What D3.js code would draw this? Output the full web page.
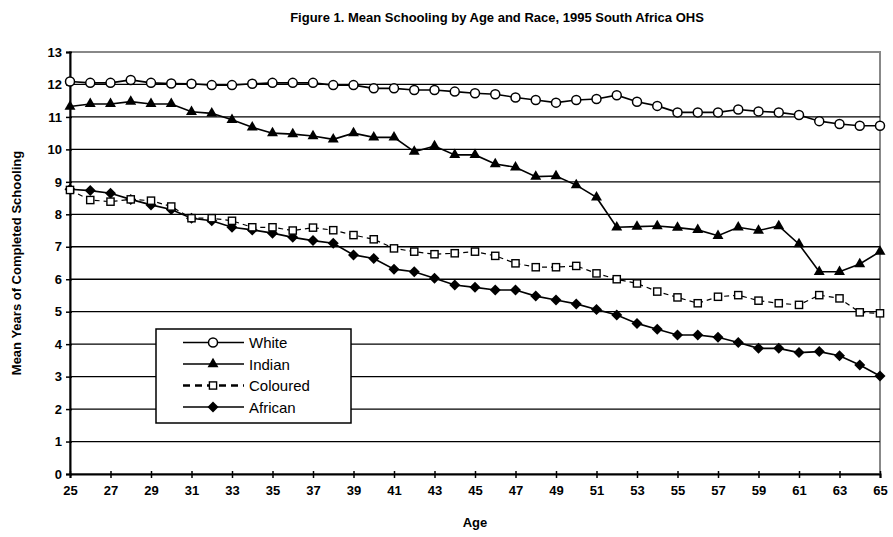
<!DOCTYPE html>
<html>
<head>
<meta charset="utf-8">
<script src="https://cdn.jsdelivr.net/npm/d3@7"></script>
<style>
  body { margin: 0; background: #fff; }
  text { font-family: "Liberation Sans", Arial, sans-serif; }
</style>
</head>
<body>
<div id="wrapper"></div>
<script>
// data
const ages = d3.range(25, 66);
const white = [12.09, 12.05, 12.05, 12.14, 12.05, 12.03, 12.02, 11.98, 11.98, 12.02,
  12.05, 12.05, 12.05, 11.98, 11.98, 11.88, 11.88, 11.83, 11.83, 11.78,
  11.73, 11.70, 11.60, 11.52, 11.44, 11.52, 11.55, 11.67, 11.47, 11.34,
  11.14, 11.14, 11.14, 11.23, 11.17, 11.14, 11.06, 10.87, 10.78, 10.73, 10.73];
const indian = [11.32, 11.40, 11.40, 11.47, 11.40, 11.40, 11.16, 11.11, 10.91, 10.68,
  10.50, 10.47, 10.41, 10.31, 10.50, 10.37, 10.37, 9.93, 10.10, 9.83,
  9.83, 9.55, 9.45, 9.16, 9.18, 8.90, 8.52, 7.60, 7.62, 7.64,
  7.59, 7.52, 7.34, 7.60, 7.50, 7.64, 7.08, 6.23, 6.23, 6.47, 6.85];
const coloured = [8.75, 8.44, 8.39, 8.46, 8.42, 8.24, 7.88, 7.88, 7.80, 7.60,
  7.60, 7.50, 7.59, 7.51, 7.36, 7.23, 6.95, 6.85, 6.77, 6.80,
  6.85, 6.72, 6.49, 6.37, 6.37, 6.41, 6.18, 6.00, 5.87, 5.62,
  5.44, 5.26, 5.46, 5.51, 5.34, 5.26, 5.21, 5.51, 5.41, 4.98, 4.95];
const african = [8.77, 8.73, 8.65, 8.46, 8.29, 8.15, 7.88, 7.80, 7.60, 7.52,
  7.42, 7.29, 7.19, 7.11, 6.75, 6.64, 6.31, 6.23, 6.03, 5.82,
  5.75, 5.67, 5.67, 5.48, 5.36, 5.24, 5.07, 4.90, 4.64, 4.46,
  4.28, 4.28, 4.21, 4.05, 3.87, 3.87, 3.74, 3.77, 3.64, 3.36, 3.02];
const seriesNames = ["White", "Indian", "Coloured", "African"];
const xTicks = d3.range(25, 66, 2);
const yTicks = d3.range(0, 14);

const dimensions = {
  width: 893,
  height: 537,
  margin: { top: 52, right: 13, bottom: 63, left: 70 },
};
dimensions.boundedWidth = dimensions.width - dimensions.margin.left - dimensions.margin.right;
dimensions.boundedHeight = dimensions.height - dimensions.margin.top - dimensions.margin.bottom;

const svg = d3.select("#wrapper").append("svg")
  .attr("width", dimensions.width)
  .attr("height", dimensions.height);

const bounds = svg.append("g")
  .attr("transform", `translate(${dimensions.margin.left},${dimensions.margin.top})`);

const xScale = d3.scaleLinear().domain([25, 65]).range([0, dimensions.boundedWidth]);
const yScale = d3.scaleLinear().domain([0, 13]).range([dimensions.boundedHeight, 0]);

// plot border (grey, top + right)
bounds.append("rect")
  .attr("x", 0).attr("y", 0)
  .attr("width", dimensions.boundedWidth).attr("height", dimensions.boundedHeight)
  .attr("fill", "none").attr("stroke", "#888").attr("stroke-width", 2);

// gridlines
bounds.append("g").selectAll("line")
  .data(yTicks.filter((d) => d > 0 && d < 13))
  .join("line")
  .attr("x1", 0).attr("x2", dimensions.boundedWidth)
  .attr("y1", (d) => yScale(d)).attr("y2", (d) => yScale(d))
  .attr("stroke", "#000").attr("stroke-width", 1.3);

// axes
const yAxis = bounds.append("g")
  .call(d3.axisLeft(yScale).tickValues(yTicks).tickSize(4).tickPadding(4).tickFormat(d3.format("d")));
const xAxis = bounds.append("g")
  .attr("transform", `translate(0,${dimensions.boundedHeight})`)
  .call(d3.axisBottom(xScale).tickValues(xTicks).tickSize(4).tickPadding(8).tickFormat(d3.format("d")));
[xAxis, yAxis].forEach((ax) => {
  ax.select(".domain").attr("stroke", "#000").attr("stroke-width", 2);
  ax.selectAll(".tick line").attr("stroke", "#000").attr("stroke-width", 1.5);
  ax.selectAll(".tick text")
    .attr("font-family", "Liberation Sans, Arial, sans-serif")
    .attr("font-size", 13).attr("font-weight", "bold").attr("fill", "#000");
});
xAxis.selectAll(".tick line").attr("y1", -3);
yAxis.selectAll(".tick line").attr("x1", 2);

// markers
const markers = {
  White: (g) => g.append("circle").attr("r", 4.5).attr("fill", "#fff").attr("stroke", "#000").attr("stroke-width", 1.5),
  Indian: (g) => g.append("path").attr("d", d3.symbol(d3.symbolTriangle, 52)()).attr("fill", "#000"),
  Coloured: (g) => g.append("rect").attr("x", -3.6).attr("y", -3.6).attr("width", 7.2).attr("height", 7.2)
    .attr("fill", "#fff").attr("stroke", "#000").attr("stroke-width", 1.4),
  African: (g) => g.append("path").attr("d", "M0,-5.5L5.5,0L0,5.5L-5.5,0Z").attr("fill", "#000"),
};
const dashes = { White: null, Indian: null, Coloured: "5,4", African: null };
const seriesValues = { White: white, Indian: indian, Coloured: coloured, African: african };

const lineGenerator = d3.line()
  .x((d) => xScale(d[0]))
  .y((d) => yScale(d[1]));

// draw back to front
["African", "Coloured", "Indian", "White"].forEach((name) => {
  const pts = ages.map((a, i) => [a, seriesValues[name][i]]);
  bounds.append("path")
    .attr("d", lineGenerator(pts))
    .attr("fill", "none").attr("stroke", "#000")
    .attr("stroke-width", name === "Coloured" ? 1.2 : 1.6)
    .attr("stroke-dasharray", dashes[name]);
  bounds.append("g").selectAll("g")
    .data(pts)
    .join("g")
    .attr("transform", (d) => `translate(${xScale(d[0])},${yScale(d[1])})`)
    .each(function () { markers[name](d3.select(this)); });
});

// legend
const legend = svg.append("g").attr("transform", "translate(156,329)");
legend.append("rect")
  .attr("width", 195).attr("height", 94)
  .attr("fill", "#fff").attr("stroke", "#000").attr("stroke-width", 1.5);
seriesNames.forEach((name, i) => {
  const row = legend.append("g").attr("transform", `translate(0,${13.5 + i * 21.5})`);
  row.append("line")
    .attr("x1", 27).attr("x2", 88).attr("y1", 0).attr("y2", 0)
    .attr("stroke", "#000")
    .attr("stroke-width", name === "Coloured" ? 2.5 : 1.5)
    .attr("stroke-dasharray", name === "Coloured" ? "7,5" : null);
  const m = row.append("g").attr("transform", "translate(57,0)");
  markers[name](m);
  row.append("text")
    .attr("x", 93).attr("y", 5.5)
    .attr("font-size", 15).attr("fill", "#000")
    .text(name);
});

// title and axis labels
svg.append("text")
  .attr("x", 497).attr("y", 22)
  .attr("text-anchor", "middle")
  .attr("font-size", 13).attr("font-weight", "bold")
  .text("Figure 1. Mean Schooling by Age and Race, 1995 South Africa OHS");

svg.append("text")
  .attr("x", dimensions.margin.left + dimensions.boundedWidth / 2).attr("y", 527)
  .attr("text-anchor", "middle")
  .attr("font-size", 13).attr("font-weight", "bold")
  .text("Age");

svg.append("text")
  .attr("transform", `translate(21,${dimensions.margin.top + dimensions.boundedHeight / 2}) rotate(-90)`)
  .attr("text-anchor", "middle")
  .attr("font-size", 13).attr("font-weight", "bold")
  .text("Mean Years of Completed Schooling");
</script>
</body>
</html>
